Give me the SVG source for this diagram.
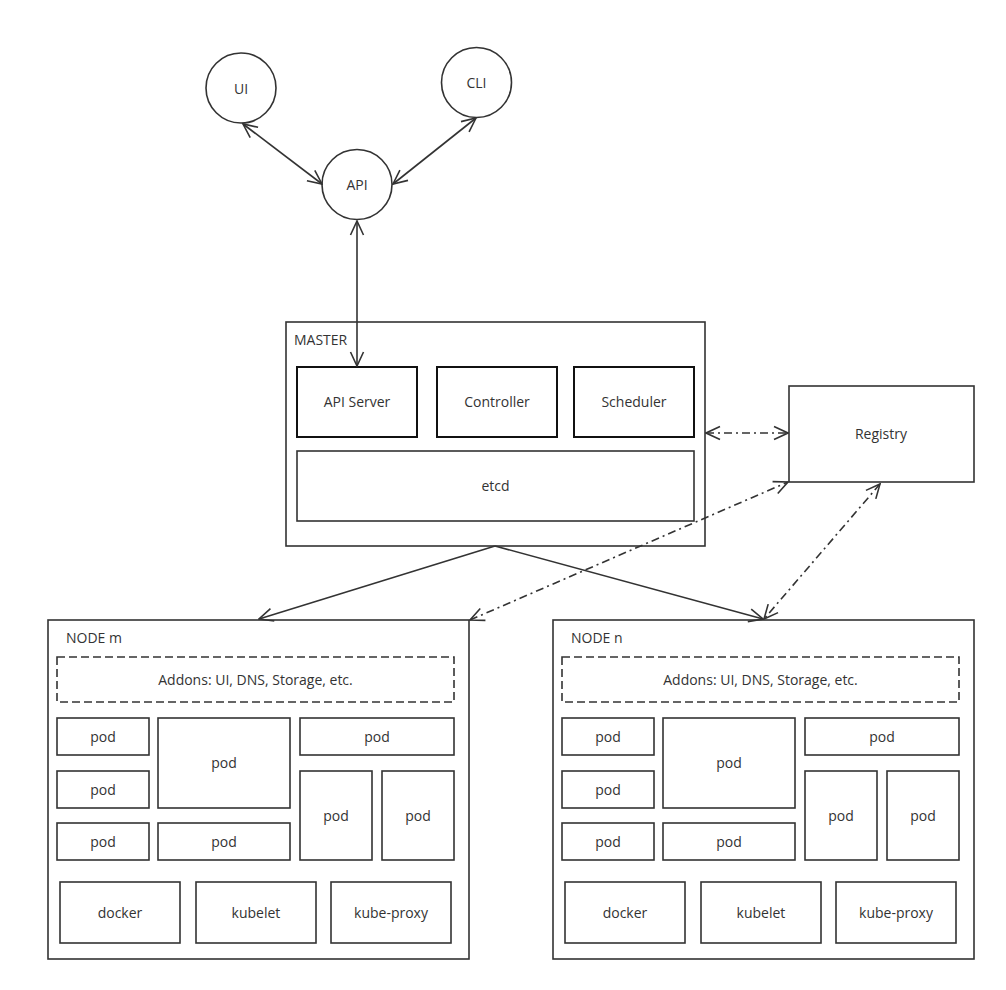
<svg xmlns="http://www.w3.org/2000/svg" width="1006" height="990" viewBox="0 0 1006 990">
<defs>
<style>
.b{fill:#fff;stroke:#333;stroke-width:1.6}
.k{fill:#fff;stroke:#111;stroke-width:2}
.d{fill:#fff;stroke:#333;stroke-width:1.6;stroke-dasharray:8 4}
.t{font-family:"Open Sans","Noto Sans",sans-serif;font-size:14px;fill:#333;text-anchor:middle;dominant-baseline:central}
.l{font-family:"Open Sans","Noto Sans",sans-serif;font-size:14px;fill:#333}
.c{fill:none;stroke:#333;stroke-width:1.6}
.dd{fill:none;stroke:#333;stroke-width:1.6;stroke-dasharray:8 4 2 4}
</style>
<marker id="ah" viewBox="0 0 16 16" refX="15" refY="8" markerWidth="16" markerHeight="16" markerUnits="userSpaceOnUse" orient="auto-start-reverse">
<path d="M1 1.5 L15 8 L1 14.5" fill="none" stroke="#333" stroke-width="1.6"/>
</marker>
</defs>
<rect width="1006" height="990" fill="#fff"/>
<g id="ui"><circle cx="241" cy="88" r="35" class="b"/><text x="241" y="88" class="t">UI</text></g>
<g id="cli"><circle cx="476.5" cy="82.5" r="35" class="b"/><text x="476.5" y="82.5" class="t">CLI</text></g>
<g id="api"><circle cx="357" cy="184.5" r="35" class="b"/><text x="357" y="184.5" class="t">API</text></g>
<g id="master">
<rect x="286" y="322" width="419" height="224" class="b"/>
<text x="294" y="345" class="l">MASTER</text>
<rect x="297" y="367" width="120" height="70" class="k"/><text x="357" y="401" class="t">API Server</text>
<rect x="437" y="367" width="120" height="70" class="k"/><text x="497" y="401" class="t">Controller</text>
<rect x="574" y="367" width="120" height="70" class="k"/><text x="634" y="401" class="t">Scheduler</text>
<rect x="297" y="451" width="397" height="70" class="b"/><text x="495.5" y="485" class="t">etcd</text>
</g>
<g id="registry"><rect x="789" y="386" width="185" height="96" class="b"/><text x="881" y="433" class="t">Registry</text></g>
<g id="node-m">
<rect x="48" y="620" width="421" height="339" class="b"/>
<text x="66" y="643" class="l">NODE m</text>
<rect x="57" y="657" width="397" height="45" class="d"/><text x="255.5" y="679" class="t">Addons: UI, DNS, Storage, etc.</text>
<rect x="57" y="718" width="92" height="37" class="b"/><text x="103" y="736" class="t">pod</text>
<rect x="158" y="718" width="132" height="90" class="b"/><text x="224" y="762" class="t">pod</text>
<rect x="300" y="718" width="154" height="37" class="b"/><text x="377" y="736" class="t">pod</text>
<rect x="57" y="771" width="92" height="37" class="b"/><text x="103" y="789" class="t">pod</text>
<rect x="300" y="771" width="72" height="89" class="b"/><text x="336" y="815" class="t">pod</text>
<rect x="382" y="771" width="72" height="89" class="b"/><text x="418" y="815" class="t">pod</text>
<rect x="57" y="823" width="92" height="37" class="b"/><text x="103" y="841" class="t">pod</text>
<rect x="158" y="823" width="132" height="37" class="b"/><text x="224" y="841" class="t">pod</text>
<rect x="60" y="882" width="120" height="61" class="b"/><text x="120" y="912" class="t">docker</text>
<rect x="196" y="882" width="120" height="61" class="b"/><text x="256" y="912" class="t">kubelet</text>
<rect x="331" y="882" width="120" height="61" class="b"/><text x="391" y="912" class="t">kube-proxy</text>
</g>
<g id="node-n">
<rect x="553" y="620" width="421" height="339" class="b"/>
<text x="571" y="643" class="l">NODE n</text>
<rect x="562" y="657" width="397" height="45" class="d"/><text x="760.5" y="679" class="t">Addons: UI, DNS, Storage, etc.</text>
<rect x="562" y="718" width="92" height="37" class="b"/><text x="608" y="736" class="t">pod</text>
<rect x="663" y="718" width="132" height="90" class="b"/><text x="729" y="762" class="t">pod</text>
<rect x="805" y="718" width="154" height="37" class="b"/><text x="882" y="736" class="t">pod</text>
<rect x="562" y="771" width="92" height="37" class="b"/><text x="608" y="789" class="t">pod</text>
<rect x="805" y="771" width="72" height="89" class="b"/><text x="841" y="815" class="t">pod</text>
<rect x="887" y="771" width="72" height="89" class="b"/><text x="923" y="815" class="t">pod</text>
<rect x="562" y="823" width="92" height="37" class="b"/><text x="608" y="841" class="t">pod</text>
<rect x="663" y="823" width="132" height="37" class="b"/><text x="729" y="841" class="t">pod</text>
<rect x="565" y="882" width="120" height="61" class="b"/><text x="625" y="912" class="t">docker</text>
<rect x="701" y="882" width="120" height="61" class="b"/><text x="761" y="912" class="t">kubelet</text>
<rect x="836" y="882" width="120" height="61" class="b"/><text x="896" y="912" class="t">kube-proxy</text>
</g>
<g id="connectors">
<line x1="243" y1="124" x2="322" y2="184" class="c" marker-start="url(#ah)" marker-end="url(#ah)"/>
<line x1="476" y1="118" x2="393" y2="184" class="c" marker-start="url(#ah)" marker-end="url(#ah)"/>
<line x1="357" y1="221" x2="357" y2="366" class="c" marker-start="url(#ah)" marker-end="url(#ah)"/>
<line x1="706" y1="433" x2="788" y2="433" class="dd" marker-start="url(#ah)" marker-end="url(#ah)"/>
<line x1="470" y1="620" x2="788" y2="482" class="dd" marker-start="url(#ah)" marker-end="url(#ah)"/>
<line x1="880" y1="484" x2="764" y2="619" class="dd" marker-start="url(#ah)" marker-end="url(#ah)"/>
<line x1="495" y1="546" x2="259" y2="619" class="c" marker-end="url(#ah)"/>
<line x1="495" y1="546" x2="763" y2="619" class="c" marker-end="url(#ah)"/>
</g>
</svg>
